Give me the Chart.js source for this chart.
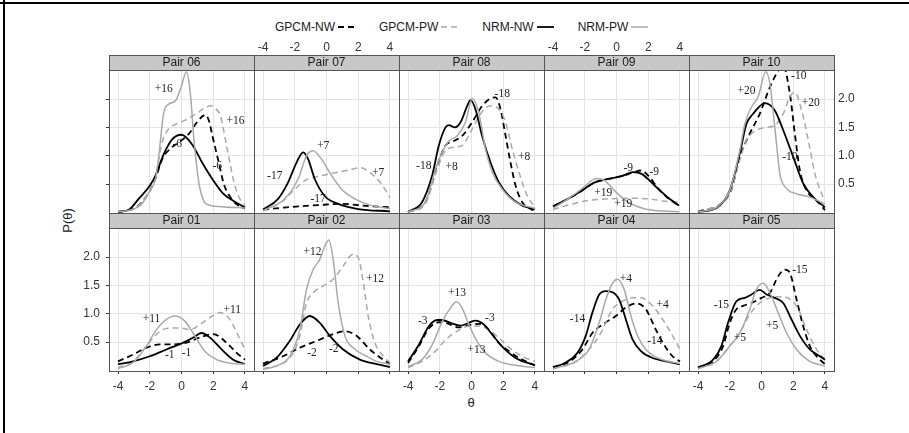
<!DOCTYPE html>
<html>
<head>
<meta charset="utf-8">
<script src="https://cdn.jsdelivr.net/npm/chart.js@4.4.1/dist/chart.umd.min.js"></script>
<style>
  body { margin: 0; background: #fff; }
  #page { position: relative; width: 909px; height: 433px; overflow: hidden; background: #fff;
          font-family: 'Liberation Sans', Arial, sans-serif; color: #1a1a1a; }
  .frame { position: absolute; background: #000; }
  canvas { position: absolute; }
  #legend { position: absolute; left: 275px; top: 20px; display: flex; align-items: center; font-size: 12px; }
  #legend .item { display: flex; align-items: center; margin-right: 24px; }
  #legend svg { margin-left: 3px; }
  .ytitle { position: absolute; left: 50px; top: 213px; width: 34px; text-align: center; font-size: 13px; transform: rotate(-90deg); }
  .xtitle { position: absolute; left: 461px; top: 395px; width: 20px; text-align: center; font-size: 13px; }
</style>
</head>
<body>
<div id="page">
  <div class="frame" style="left:0; top:2px; width:909px; height:2px;"></div>
  <div class="frame" style="left:3px; top:0; width:2px; height:433px;"></div>
  <div id="legend"></div>
  <div class="ytitle">P(θ)</div>
  <div class="xtitle">θ</div>
</div>
<script>
// tick values
const xTicks = [-4, -2, 0, 2, 4];
const yTicks = [0.5, 1, 1.5, 2];

const seriesNames = ["GPCM-NW", "GPCM-PW", "NRM-NW", "NRM-PW"];

// density curves: [theta, P(theta)]
const pair06 = {
  gpcmNW: [[-4,0.01],[-3,0.07],[-2.5,0.18],[-2,0.38],[-1.64,0.6],[-1.2,0.95],[-0.6,1.15],[0,1.27],[0.5,1.4],[1.0,1.6],[1.5,1.72],[1.75,1.6],[1.95,1.35],[2.35,0.88],[2.67,0.5],[3.1,0.26],[3.5,0.14],[4,0.07]],
  gpcmPW: [[-4,0.01],[-3,0.07],[-2.5,0.18],[-2,0.4],[-1.64,0.62],[-1.22,1.24],[-0.9,1.44],[-0.6,1.52],[0,1.6],[0.46,1.66],[1.09,1.77],[1.5,1.85],[1.89,1.88],[2.2,1.82],[2.46,1.7],[2.88,1.12],[3.31,0.53],[3.6,0.28],[3.83,0.18],[4,0.12]],
  nrmNW: [[-4,0.01],[-3.3,0.05],[-2.7,0.24],[-2,0.47],[-1.64,0.65],[-1.12,1.03],[-0.59,1.29],[0.0,1.37],[0.67,1.2],[1.3,0.88],[1.94,0.59],[2.57,0.35],[3.41,0.18],[4,0.09]],
  nrmPW: [[-4,0.01],[-3,0.06],[-2.5,0.15],[-2,0.38],[-1.64,0.59],[-1.43,1.0],[-1.12,1.76],[-0.8,1.91],[-0.38,1.97],[-0.06,2.18],[0.32,2.48],[0.57,2.06],[0.78,1.3],[1.09,0.53],[1.41,0.2],[1.73,0.13],[2.5,0.1],[4,0.08]],
  labels: [["+16",-1.12,2.18],["+16",3.41,1.62],["-6",-0.27,1.2],["-6",2.25,0.82]]
};
const pair07 = {
  gpcmNW: [[-4,0.05],[-2.5,0.09],[-0.5,0.13],[1,0.15],[2.3,0.12],[4,0.09]],
  gpcmPW: [[-4,0.04],[-2.84,0.18],[-2,0.41],[-1.37,0.56],[-0.32,0.65],[0.74,0.71],[1.58,0.76],[2.1,0.79],[2.84,0.68],[3.47,0.5],[4,0.26]],
  nrmNW: [[-4,0.05],[-3.05,0.24],[-2.42,0.53],[-1.89,0.88],[-1.47,1.06],[-1.16,0.94],[-0.74,0.59],[-0.11,0.29],[0.74,0.15],[2,0.06],[4,0.02]],
  nrmPW: [[-4,0.03],[-2.63,0.24],[-1.79,0.59],[-1.26,1.0],[-0.84,1.09],[-0.32,0.94],[0.32,0.65],[0.95,0.41],[1.79,0.24],[2.84,0.12],[4,0.07]],
  labels: [["-17",-3.26,0.65],["+7",-0.21,1.18],["+7",3.26,0.69],["-17",-0.53,0.24]]
};
const pair08 = {
  gpcmNW: [[-4,0.01],[-2.91,0.18],[-2.17,0.82],[-1.64,1.18],[-1.12,1.26],[-0.59,1.35],[0.04,1.59],[0.67,1.88],[1.2,2.01],[1.52,2.03],[1.83,1.82],[2.15,1.35],[2.46,0.88],[2.78,0.47],[3.2,0.18],[3.73,0.06],[4,0.03]],
  gpcmPW: [[-4,0.01],[-2.91,0.15],[-2.17,0.76],[-1.64,1.09],[-1.12,1.15],[-0.59,1.18],[0.04,1.47],[0.57,1.74],[1.2,1.88],[1.73,1.82],[2.15,1.59],[2.57,1.12],[2.99,0.71],[3.52,0.29],[4,0.09]],
  nrmNW: [[-4,0.01],[-3.12,0.18],[-2.48,0.65],[-2.06,1.18],[-1.64,1.5],[-1.43,1.54],[-1.05,1.5],[-0.69,1.59],[-0.27,1.88],[-0.06,1.98],[0.25,1.82],[0.67,1.35],[1.2,0.88],[1.73,0.53],[2.36,0.29],[3.2,0.12],[4,0.06]],
  nrmPW: [[-4,0.01],[-2.91,0.18],[-2.27,0.76],[-1.85,1.06],[-1.43,1.26],[-0.91,1.35],[-0.38,1.59],[0.04,2.01],[0.46,1.76],[0.88,1.12],[1.31,0.71],[1.94,0.41],[2.78,0.18],[4,0.07]],
  labels: [["-18",1.94,2.09],["-18",-3.01,0.82],["+8",-1.26,0.81],["+8",3.31,0.97]]
};
const pair09 = {
  gpcmNW: [[-4,0.11],[-3.05,0.24],[-2.21,0.38],[-1.37,0.53],[-0.53,0.59],[0.32,0.64],[1.2,0.72],[1.5,0.74],[2.0,0.65],[2.63,0.42],[3.3,0.24],[3.94,0.12]],
  gpcmPW: [[-4,0.05],[-3.05,0.13],[-1.8,0.21],[-0.53,0.24],[0.74,0.25],[2.0,0.24],[3.26,0.19],[3.94,0.18]],
  nrmNW: [[-4,0.11],[-3.05,0.24],[-2.21,0.38],[-1.37,0.53],[-0.53,0.59],[0.32,0.64],[1.05,0.71],[1.58,0.68],[2.42,0.47],[3.26,0.26],[3.94,0.12]],
  nrmPW: [[-4,0.07],[-3.05,0.24],[-2.21,0.41],[-1.26,0.6],[-0.74,0.56],[-0.11,0.38],[0.74,0.18],[1.79,0.06],[3.94,0.01]],
  labels: [["-9",0.74,0.78],["-9",2.38,0.72],["+19",-0.84,0.34],["+19",0.42,0.15]]
};
const pair10 = {
  gpcmNW: [[-4,0.01],[-2,0.33],[-1.37,0.98],[-0.74,1.39],[-0.11,1.74],[0.53,2.21],[1.05,2.5],[1.35,2.6],[1.79,2.09],[2.1,1.39],[2.42,0.74],[2.84,0.39],[3.47,0.21],[4,0.04]],
  gpcmPW: [[-4,0.01],[-2,0.33],[-1.37,0.92],[-0.95,1.27],[-0.32,1.45],[0.32,1.5],[0.84,1.54],[1.37,1.74],[1.79,2.04],[2.1,2.12],[2.53,1.8],[2.95,1.27],[3.37,0.68],[3.79,0.33],[4,0.21]],
  nrmNW: [[-4,0.01],[-2.84,0.08],[-2,0.39],[-1.37,1.04],[-0.95,1.56],[-0.53,1.74],[0.21,1.93],[0.84,1.8],[1.37,1.45],[2.0,0.98],[2.63,0.51],[3.26,0.27],[4,0.09]],
  nrmPW: [[-4,0.01],[-2.84,0.09],[-2,0.39],[-1.37,1.09],[-1.05,1.56],[-0.63,1.86],[-0.21,2.04],[0.27,2.48],[0.53,2.27],[0.84,1.5],[1.16,0.68],[1.58,0.42],[2.21,0.33],[3.05,0.27],[4,0.15]],
  labels: [["+20",-0.95,2.15],["-10",2.35,2.4],["+20",3.1,1.93],["-10",1.79,0.98]]
};
const pair01 = {
  gpcmNW: [[-4,0.16],[-3.05,0.28],[-2.21,0.4],[-1.37,0.46],[-0.53,0.46],[0.32,0.49],[1.16,0.58],[2.0,0.64],[2.84,0.49],[3.47,0.31],[4,0.19]],
  gpcmPW: [[-4,0.05],[-3.05,0.16],[-2.21,0.43],[-1.58,0.64],[-0.95,0.74],[-0.11,0.75],[0.53,0.72],[1.16,0.81],[1.79,0.93],[2.42,1.02],[3.05,0.9],[3.58,0.61],[4,0.37]],
  nrmNW: [[-4,0.11],[-3.05,0.16],[-2.0,0.25],[-0.95,0.37],[0.11,0.49],[0.74,0.58],[1.26,0.66],[1.79,0.58],[2.53,0.37],[3.26,0.19],[4,0.11]],
  nrmPW: [[-4,0.03],[-3.05,0.14],[-2.21,0.43],[-1.58,0.72],[-0.95,0.9],[-0.42,0.96],[0.21,0.87],[0.84,0.61],[1.47,0.34],[2.21,0.19],[3.26,0.12],[4,0.11]],
  labels: [["+11",-1.89,0.9],["+11",3.2,1.06],["-1",-0.74,0.28],["-1",0.32,0.3]]
};
const pair02 = {
  gpcmNW: [[-4,0.12],[-2.74,0.25],[-1.68,0.4],[-0.63,0.52],[0.42,0.64],[1.16,0.69],[1.89,0.61],[2.74,0.37],[3.58,0.19],[4,0.12]],
  gpcmPW: [[-4,0.03],[-2.32,0.22],[-1.68,0.61],[-1.26,1.19],[-0.84,1.37],[-0.21,1.49],[0.42,1.61],[1.05,1.84],[1.68,2.05],[2.0,1.99],[2.32,1.55],[2.63,0.96],[3.05,0.49],[3.58,0.25],[4,0.14]],
  nrmNW: [[-4,0.08],[-3.16,0.22],[-2.32,0.52],[-1.68,0.81],[-1.05,0.96],[-0.42,0.84],[0.21,0.61],[1.05,0.37],[2.11,0.19],[3.16,0.11],[4,0.06]],
  nrmPW: [[-4,0.02],[-3.16,0.08],[-2.32,0.25],[-1.68,0.72],[-1.26,1.43],[-0.84,1.78],[-0.42,1.96],[-0.11,2.19],[0.15,2.3],[0.42,1.96],[0.74,1.19],[1.16,0.61],[1.68,0.4],[2.53,0.25],[3.16,0.16],[4,0.11]],
  labels: [["+12",-0.88,2.09],["+12",3.05,1.62],["-2",-0.91,0.3],["-2",0.46,0.38]]
};
const pair03 = {
  gpcmNW: [[-4,0.13],[-3.33,0.42],[-2.69,0.74],[-2.06,0.85],[-1.64,0.84],[-0.8,0.76],[0.04,0.81],[0.57,0.82],[1.09,0.72],[1.73,0.48],[2.36,0.34],[3.2,0.19],[4,0.09]],
  gpcmPW: [[-4,0.05],[-3.12,0.16],[-2.27,0.34],[-1.64,0.54],[-0.91,0.69],[-0.17,0.78],[0.46,0.78],[1.09,0.72],[1.73,0.57],[2.57,0.36],[3.41,0.22],[4,0.16]],
  nrmNW: [[-4,0.16],[-3.33,0.45],[-2.69,0.78],[-2.17,0.89],[-1.85,0.89],[-1.33,0.84],[-0.69,0.79],[-0.17,0.84],[0.25,0.88],[0.78,0.81],[1.31,0.63],[1.94,0.42],[2.78,0.22],[4,0.09]],
  nrmPW: [[-4,0.07],[-3.12,0.19],[-2.48,0.45],[-1.85,0.86],[-1.33,1.1],[-0.95,1.21],[-0.59,1.1],[-0.17,0.81],[0.36,0.51],[0.88,0.31],[1.73,0.16],[2.78,0.09],[4,0.05]],
  labels: [["+13",-0.91,1.36],["-3",-3.07,0.88],["-3",1.16,0.92],["+13",0.32,0.36]]
};
const pair04 = {
  gpcmNW: [[-4,0.06],[-2.99,0.15],[-2.15,0.37],[-1.52,0.66],[-0.88,0.81],[-0.04,0.96],[0.59,1.11],[1.26,1.18],[1.85,1.08],[2.48,0.72],[3.12,0.4],[3.64,0.22],[4,0.16]],
  gpcmPW: [[-4,0.03],[-2.57,0.15],[-1.73,0.37],[-0.99,0.66],[-0.25,1.08],[0.38,1.22],[1.01,1.28],[1.54,1.28],[2.27,1.14],[2.91,0.9],[3.54,0.61],[4,0.37]],
  nrmNW: [[-4,0.05],[-3.2,0.14],[-2.46,0.31],[-1.94,0.61],[-1.52,1.02],[-1.09,1.34],[-0.67,1.4],[-0.25,1.38],[0.17,1.25],[0.59,0.9],[1.01,0.55],[1.54,0.34],[2.27,0.22],[3.12,0.16],[4,0.11]],
  nrmPW: [[-4,0.03],[-2.57,0.16],[-1.73,0.37],[-1.09,0.84],[-0.67,1.25],[-0.25,1.54],[0.06,1.61],[0.48,1.43],[0.91,0.96],[1.33,0.61],[1.85,0.37],[2.69,0.21],[4,0.12]],
  labels: [["+4",0.59,1.62],["+4",2.91,1.15],["-14",-2.46,0.9],["-14",2.42,0.52]]
};
const pair05 = {
  gpcmNW: [[-4,0.05],[-3.05,0.16],[-2.42,0.43],[-2.0,0.84],[-1.58,1.08],[-1.16,1.14],[-0.63,1.19],[0,1.28],[0.53,1.37],[1.05,1.66],[1.47,1.78],[1.79,1.72],[2.21,1.25],[2.63,0.78],[3.05,0.43],[3.47,0.25],[4,0.11]],
  gpcmPW: [[-4,0.03],[-2.84,0.16],[-2.0,0.43],[-1.37,0.66],[-0.74,0.99],[-0.11,1.19],[0.53,1.28],[1.16,1.3],[1.79,1.26],[2.32,1.08],[2.84,0.72],[3.47,0.37],[4,0.19]],
  nrmNW: [[-4,0.05],[-3.05,0.19],[-2.53,0.43],[-2.11,0.84],[-1.58,1.22],[-1.05,1.28],[-0.63,1.34],[-0.11,1.42],[0.32,1.34],[0.84,1.28],[1.37,1.19],[1.89,0.9],[2.42,0.61],[3.05,0.37],[3.68,0.25],[4,0.19]],
  nrmPW: [[-4,0.03],[-2.84,0.16],[-2.0,0.43],[-1.37,0.66],[-0.74,1.08],[-0.32,1.43],[0.11,1.54],[0.53,1.37],[1.05,1.02],[1.58,0.66],[2.21,0.37],[3.05,0.16],[4,0.08]],
  labels: [["-15",2.42,1.78],["-15",-2.53,1.15],["+5",0.67,0.78],["+5",-1.37,0.58]]
};

const panels = [
  ["Pair 06", pair06], ["Pair 07", pair07], ["Pair 08", pair08], ["Pair 09", pair09], ["Pair 10", pair10],
  ["Pair 01", pair01], ["Pair 02", pair02], ["Pair 03", pair03], ["Pair 04", pair04], ["Pair 05", pair05]
];

const SANS = "'Liberation Sans', Arial, sans-serif";
const GRAY = "#a9a9a9";
const styles = [
  { key: "gpcmNW", color: "#000", dash: [6, 4], width: 1.8 },
  { key: "gpcmPW", color: GRAY, dash: [6, 4], width: 1.5 },
  { key: "nrmNW", color: "#000", dash: [], width: 1.8 },
  { key: "nrmPW", color: GRAY, dash: [], width: 1.5 }
];

// legend
const legend = document.getElementById("legend");
seriesNames.forEach((name, i) => {
  const st = styles[i];
  const item = document.createElement("div");
  item.className = "item";
  item.innerHTML = `<span>${name}</span><svg width="17" height="10"><line x1="0" y1="5" x2="17" y2="5" stroke="${st.color}" stroke-width="${st.width}" stroke-dasharray="${st.dash.join(",")}"/></svg>`;
  legend.appendChild(item);
});

// frame, strip and text labels
const facetPlugin = {
  id: "facet",
  afterDatasetsDraw(chart) {
    const { ctx, scales } = chart;
    const lab = chart.options.plugins.facet.labels;
    ctx.save();
    ctx.font = "11.5px 'Liberation Serif', 'Times New Roman', serif";
    ctx.fillStyle = "#222";
    ctx.textAlign = "center";
    ctx.textBaseline = "middle";
    lab.forEach(([t, x, y]) => ctx.fillText(t, scales.x.getPixelForValue(x), scales.y.getPixelForValue(y)));
    ctx.restore();
  },
  afterDraw(chart) {
    const { ctx, chartArea: a } = chart;
    const title = chart.options.plugins.facet.title;
    ctx.save();
    ctx.fillStyle = "#c8c8c8";
    ctx.fillRect(a.left, a.top - 16, a.right - a.left, 16);
    ctx.strokeStyle = "#555";
    ctx.lineWidth = 1;
    ctx.strokeRect(a.left + 0.5, a.top - 16 + 0.5, a.right - a.left, a.bottom - a.top + 16);
    ctx.beginPath();
    ctx.moveTo(a.left, a.top - 0.5);
    ctx.lineTo(a.right, a.top - 0.5);
    ctx.stroke();
    ctx.fillStyle = "#1a1a1a";
    ctx.font = "12px " + SANS;
    ctx.textAlign = "center";
    ctx.textBaseline = "middle";
    ctx.fillText(title, (a.left + a.right) / 2, a.top - 8);
    ctx.restore();
  }
};

const L = 45, R = 30, T = 34, B = 24, PW = 145, PH = 142;
const page = document.getElementById("page");

panels.forEach(([title, d], i) => {
  const row = i < 5 ? 0 : 1;
  const col = i % 5;
  const plotLeft = 109 + col * PW;
  const plotTop = row === 0 ? 71 : 229;
  const cv = document.createElement("canvas");
  cv.width = L + PW + R;
  cv.height = T + PH + B;
  cv.style.left = (plotLeft - L) + "px";
  cv.style.top = (plotTop - T) + "px";
  page.appendChild(cv);

  const xLabels = row === 0 ? (col === 1 || col === 3) : (col % 2 === 0);
  const yRight = row === 0 && col === 4;
  const yTickMarks = col === 0;
  const yLabels = (col === 0 && row === 1) || yRight;

  const datasets = styles.map((st, k) => ({
    label: seriesNames[k],
    data: d[st.key],
    borderColor: st.color,
    borderDash: st.dash,
    borderWidth: st.width,
    pointRadius: 0,
    fill: false,
    cubicInterpolationMode: "monotone",
    order: 4 - k
  }));

  new Chart(cv, {
    type: "line",
    data: { datasets },
    options: {
      responsive: false,
      animation: false,
      devicePixelRatio: 1,
      layout: {
        padding: {
          left: yRight ? L : 0,
          right: yRight ? 0 : R,
          top: row === 0 ? 0 : T,
          bottom: row === 0 ? B : 0
        }
      },
      plugins: {
        legend: { display: false },
        tooltip: { enabled: false },
        facet: { title, labels: d.labels }
      },
      scales: {
        x: {
          type: "linear",
          position: row === 0 ? "top" : "bottom",
          min: -4.57,
          max: 4.57,
          afterBuildTicks: s => { s.ticks = xTicks.map(v => ({ value: v })); },
          afterFit: s => { s.height = row === 0 ? T : B; },
          ticks: {
            display: xLabels,
            padding: row === 0 ? 16 : 5,
            color: "#333",
            font: { family: SANS, size: 12 },
            maxRotation: 0,
            callback: v => String(v)
          },
          grid: { color: "#e4e4e4", drawTicks: row === 1, tickLength: 3, tickColor: "#333" },
          border: { display: false }
        },
        y: {
          type: "linear",
          position: yRight ? "right" : "left",
          min: -0.01,
          max: 2.495,
          afterBuildTicks: s => { s.ticks = yTicks.map(v => ({ value: v })); },
          afterFit: s => { s.width = yRight ? R : L; },
          ticks: {
            display: yLabels,
            padding: yRight ? 4 : 6,
            color: "#333",
            font: { family: SANS, size: 12 },
            callback: v => v.toFixed(1)
          },
          grid: { color: "#e4e4e4", drawTicks: yTickMarks, tickLength: 3, tickColor: "#333" },
          border: { display: false }
        }
      }
    },
    plugins: [facetPlugin]
  });
});
</script>
</body>
</html>
